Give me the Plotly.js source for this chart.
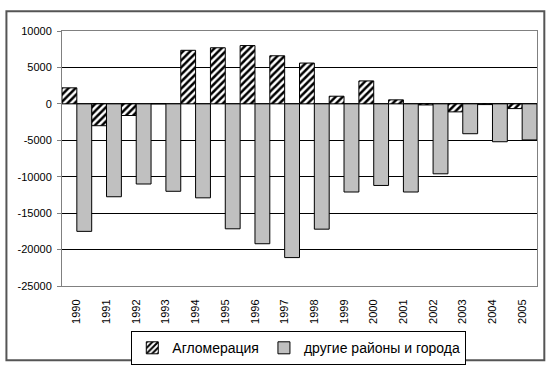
<!DOCTYPE html>
<html>
<head>
<meta charset="utf-8">
<script src="https://cdn.plot.ly/plotly-3.0.1.min.js"></script>
<style>
html,body{margin:0;padding:0;background:#fff;}
#chart{width:550px;height:368px;}
</style>
</head>
<body>
<div id="chart"></div>
<script>
const years = ['1990','1991','1992','1993','1994','1995','1996','1997','1998','1999','2000','2001','2002','2003','2004','2005'];
const agglomeration = [2200,-3000,-1600,0,7350,7700,8000,6600,5600,1050,3150,550,-150,-1100,-100,-650];
const otherDistricts = [-17500,-12750,-11000,-12000,-12900,-17150,-19200,-21100,-17200,-12100,-11200,-12100,-9600,-4100,-5200,-4950];
const seriesNames = ['Агломерация','другие районы и города'];
const yTicks = [10000,5000,0,-5000,-10000,-15000,-20000,-25000];

const traces = [
  {
    type:'bar', x: years, y: agglomeration, name: seriesNames[0],
    marker:{color:'white', line:{color:'#000', width:1},
      pattern:{shape:'/', fgcolor:'#000', bgcolor:'#fff', size:5, solidity:0.5}}
  },
  {
    type:'bar', x: years, y: otherDistricts, name: seriesNames[1],
    marker:{color:'#c0c0c0', line:{color:'#000', width:1}}
  }
];

const layout = {
  width:550, height:368,
  margin:{l:62, r:13, t:31, b:82},
  paper_bgcolor:'#fff', plot_bgcolor:'#fff',
  font:{family:'"Liberation Sans", Arial, sans-serif', size:11, color:'#000'},
  barmode:'group', bargap:0, bargroupgap:0,
  showlegend:true,
  legend:{orientation:'h', x:0.4985, xanchor:'center', yref:'container', y:0.1, yanchor:'top',
    bordercolor:'#000', borderwidth:1, bgcolor:'#fff',
    font:{size:14, color:'#000'}, itemwidth:30, tracegroupgap:0},
  xaxis:{type:'category', tickangle:-90, ticks:'', showgrid:false,
    showline:true, linecolor:'#808080', linewidth:1, mirror:true,
    tickfont:{size:11}, ticklabelstandoff:8, zeroline:false},
  yaxis:{range:[-25000,10000], tickvals:yTicks, ticktext:yTicks.map(String),
    showgrid:true, gridcolor:'#000', gridwidth:1,
    zeroline:true, zerolinecolor:'#000', zerolinewidth:1,
    showline:true, linecolor:'#808080', linewidth:1, mirror:true,
    ticks:'outside', ticklen:4, tickcolor:'#808080', tickfont:{size:11}, ticklabelstandoff:3},
  shapes:[{type:'rect', xref:'paper', yref:'paper',
    x0:-0.117, x1:1.0154, y0:-0.2914, y1:1.0773,
    line:{color:'#555', width:2}, fillcolor:'rgba(0,0,0,0)', layer:'below'}]
};

Plotly.newPlot('chart', traces, layout, {displayModeBar:false, staticPlot:true});
</script>
</body>
</html>
